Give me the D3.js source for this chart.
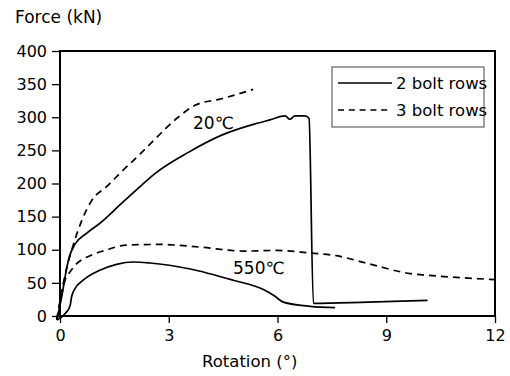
<!DOCTYPE html>
<html>
<head>
<meta charset="utf-8">
<script src="https://cdn.jsdelivr.net/npm/d3@7"></script>
<style>
  body { margin: 0; background: #fff; }
  svg text { font-family: "DejaVu Sans", sans-serif; fill: #000; }
</style>
</head>
<body>
<svg id="chart" width="510" height="376"></svg>
<script>
// [rotation (deg), force (kN)]
var twoRows20 = [[-0.09,-6],[0.05,30],[0.15,62],[0.25,88],[0.41,108],[0.74,125],[1.1,140],[1.66,168],[2.2,195],
    [2.62,215],[3.54,247],[4.46,273],[5.38,290],[5.79,296],[6.21,302],[6.34,297],[6.48,302],[6.76,302],[6.87,298],
    [6.99,19],[8.5,21],[10.14,23.5]];
var threeRows20 = [[-0.09,-6],[0.09,49],[0.2,76],[0.32,99],[0.6,144],[0.87,174],[1.3,196],[1.7,218],[2.2,244],
    [2.62,267],[3.26,300],[3.72,318],[4.46,328],[5.33,342]];
var twoRows550 = [[-0.09,-6],[0.15,4],[0.28,16],[0.32,29],[0.41,41],[0.64,54],[1.1,69],[1.56,78],[2.02,81.5],
    [2.48,80],[3.59,71],[4.78,54],[5.61,40],[5.9,31],[6.16,21],[6.9,14.6],[7.59,12.6]];
var threeRows550 = [[-0.09,-6],[0.08,41],[0.15,56],[0.23,63],[0.46,79],[0.83,91],[1.24,99],[1.84,107],
    [2.76,108],[3.86,104],[5.06,98],[5.98,99],[6.9,95],[7.63,91],[8.37,81],[9.66,64],[10.48,60],[12,55]];

var xTicks = [0, 3, 6, 9, 12];
var yTicks = [0, 50, 100, 150, 200, 250, 300, 350, 400];
var legendNames = ["2 bolt rows", "3 bolt rows"];

var svg = d3.select("#chart");
var plotLeft = 60, plotRight = 495, plotTop = 51, plotBottom = 316;

var x = d3.scaleLinear().domain([0, 12]).range([plotLeft, plotRight]);
var y = d3.scaleLinear().domain([0, 400]).range([plotBottom, plotTop]);

var yAxis = svg.append("g")
    .attr("transform", "translate(" + plotLeft + ",0)")
    .call(d3.axisLeft(y).tickValues(yTicks).tickSize(8).tickPadding(5));
var xAxis = svg.append("g")
    .attr("transform", "translate(0," + plotBottom + ")")
    .call(d3.axisBottom(x).tickValues(xTicks).tickSize(7).tickPadding(7));

[xAxis, yAxis].forEach(function (a) {
    a.select(".domain").remove();
    a.selectAll("line").attr("stroke", "#000").attr("stroke-width", 1.3);
    a.selectAll("text").style("font-size", "16px").attr("fill", "#000");
});

// frame
svg.append("rect")
    .attr("x", plotLeft).attr("y", plotTop)
    .attr("width", plotRight - plotLeft).attr("height", plotBottom - plotTop)
    .attr("fill", "none").attr("stroke", "#000").attr("stroke-width", 2);

var line = d3.line()
    .x(function (d) { return x(d[0]); })
    .y(function (d) { return y(d[1]); })
    .curve(d3.curveMonotoneX);

var series = [
    {data: twoRows20, dash: null},
    {data: threeRows20, dash: "7,5"},
    {data: twoRows550, dash: null},
    {data: threeRows550, dash: "7,5"}
];

series.forEach(function (s) {
    svg.append("path")
        .attr("d", line(s.data))
        .attr("fill", "none")
        .attr("stroke", "#000")
        .attr("stroke-width", 1.7)
        .attr("stroke-dasharray", s.dash);
});

// legend
svg.append("rect")
    .attr("x", 332).attr("y", 67).attr("width", 152).attr("height", 60)
    .attr("fill", "none").attr("stroke", "#444").attr("stroke-width", 1);

legendNames.forEach(function (name, i) {
    var ly = 83 + i * 27;
    svg.append("line")
        .attr("x1", 338).attr("x2", 392).attr("y1", ly).attr("y2", ly)
        .attr("stroke", "#000").attr("stroke-width", 1.7)
        .attr("stroke-dasharray", i === 1 ? "6,4.8" : null);
    svg.append("text")
        .attr("x", 396).attr("y", ly + 5.5)
        .style("font-size", "16.5px")
        .text(name);
});

// annotations
svg.append("text").attr("x", 193).attr("y", 129).style("font-size", "17px").text("20℃");
svg.append("text").attr("x", 233).attr("y", 274).style("font-size", "17px").text("550℃");

// axis titles
svg.append("text").attr("x", 15).attr("y", 23).style("font-size", "17px").text("Force (kN)");
svg.append("text").attr("x", 202).attr("y", 366.5).style("font-size", "16.5px").text("Rotation (°)");
</script>
</body>
</html>
